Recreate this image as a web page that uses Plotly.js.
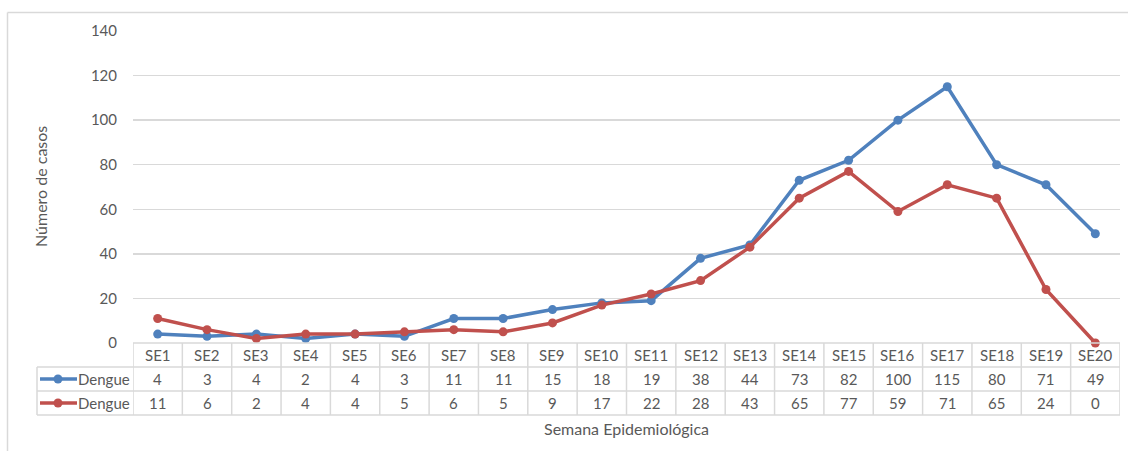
<!DOCTYPE html>
<html>
<head>
<meta charset="utf-8">
<script src="https://cdn.plot.ly/plotly-3.0.1.min.js"></script>
<style>
  html, body { margin: 0; padding: 0; background: #fff; }
  #chart { width: 1128px; height: 451px; }
</style>
</head>
<body>
<div id="chart"></div>
<script>
// ---- data ----
const weeks = ['SE1','SE2','SE3','SE4','SE5','SE6','SE7','SE8','SE9','SE10',
               'SE11','SE12','SE13','SE14','SE15','SE16','SE17','SE18','SE19','SE20'];
const dengueA = [4, 3, 4, 2, 4, 3, 11, 11, 15, 18, 19, 38, 44, 73, 82, 100, 115, 80, 71, 49];
const dengueB = [11, 6, 2, 4, 4, 5, 6, 5, 9, 17, 22, 28, 43, 65, 77, 59, 71, 65, 24, 0];
const seriesNames = ['Dengue', 'Dengue'];
const yTicks = [0, 20, 40, 60, 80, 100, 120, 140];

// ---- styling ----
const BLUE = '#4f81bd', RED = '#c0504d', GRID = '#d9d9d9', TXT = '#595959';
const FONT = 'Lato, "Open Sans", "Liberation Sans", sans-serif';

// geometry (pixels) -> paper conversions
const W = 1128, H = 451;
const L = 133, R = 8, T = 31, B = 108;
const pw = W - L - R, ph = H - T - B;
const px = x => (x - L) / pw;             // pixel x -> paper x
const py = y => (H - B - y) / ph;         // pixel y -> paper y

const rowTop = [343, 367, 391, 415];      // table row boundaries (pixels)
const legendLeft = 37;

const idx = weeks.map((_, i) => i);
const traces = [
  { x: idx, y: dengueA, name: seriesNames[0], type: 'scatter', mode: 'lines+markers',
    line: { color: BLUE, width: 3.5 }, marker: { color: BLUE, size: 9 }, cliponaxis: false },
  { x: idx, y: dengueB, name: seriesNames[1], type: 'scatter', mode: 'lines+markers',
    line: { color: RED, width: 3.5 }, marker: { color: RED, size: 9 }, cliponaxis: false }
];

const shapes = [];
const annotations = [];
const lineStyle = { color: GRID, width: 1.5 };

// outer chart border (left + top)
shapes.push({ type: 'line', xref: 'paper', yref: 'paper', x0: px(7.5), x1: px(1128), y0: py(12.5), y1: py(12.5), line: lineStyle });
shapes.push({ type: 'line', xref: 'paper', yref: 'paper', x0: px(7.5), x1: px(7.5), y0: py(12.5), y1: py(451), line: lineStyle });

// table horizontal lines
shapes.push({ type: 'line', xref: 'x', yref: 'paper', x0: -0.5, x1: weeks.length - 0.5, y0: py(rowTop[0]), y1: py(rowTop[0]), line: lineStyle });
for (let r = 1; r < rowTop.length; r++) {
  shapes.push({ type: 'line', xref: 'paper', yref: 'paper', x0: px(legendLeft), x1: 1, y0: py(rowTop[r]), y1: py(rowTop[r]), line: lineStyle });
}
// table vertical lines
for (let i = 0; i <= weeks.length; i++) {
  shapes.push({ type: 'line', xref: 'x', yref: 'paper', x0: i - 0.5, x1: i - 0.5, y0: py(rowTop[0]), y1: py(rowTop[3]), line: lineStyle });
}
shapes.push({ type: 'line', xref: 'paper', yref: 'paper', x0: px(legendLeft), x1: px(legendLeft), y0: py(rowTop[1]), y1: py(rowTop[3]), line: lineStyle });

// header + values
const rowMid = r => py((rowTop[r] + rowTop[r + 1]) / 2);
const cellFont = { family: FONT, size: 15, color: TXT };
const ann = (o) => Object.assign({ showarrow: false, xanchor: 'center', yanchor: 'middle' }, o);
weeks.forEach((w, i) => {
  annotations.push(ann({ x: i, y: rowMid(0), xref: 'x', yref: 'paper', text: w, font: cellFont }));
  annotations.push(ann({ x: i, y: rowMid(1), xref: 'x', yref: 'paper', text: String(dengueA[i]), font: cellFont }));
  annotations.push(ann({ x: i, y: rowMid(2), xref: 'x', yref: 'paper', text: String(dengueB[i]), font: cellFont }));
});

// legend keys inside table
[[BLUE, 1, seriesNames[0]], [RED, 2, seriesNames[1]]].forEach(([c, r, name]) => {
  const yc = rowMid(r);
  shapes.push({ type: 'line', xref: 'paper', yref: 'paper', x0: px(40), x1: px(77), y0: yc, y1: yc, line: { color: c, width: 3.5 } });
  shapes.push({ type: 'circle', xref: 'paper', yref: 'paper', x0: px(53.5), x1: px(62.5),
    y0: yc - 4.5 / ph, y1: yc + 4.5 / ph, fillcolor: c, line: { color: c, width: 0 } });
  annotations.push(ann({ x: px(104), y: yc, xref: 'paper', yref: 'paper', text: name, font: cellFont }));
});

// axis titles
annotations.push(ann({ x: px(40), y: 0.5, xref: 'paper', yref: 'paper', text: 'Número de casos', textangle: -90,
  font: { family: FONT, size: 16, color: TXT } }));
annotations.push(ann({ x: 0.5, y: py(428), xref: 'paper', yref: 'paper', text: 'Semana Epidemiológica',
  font: { family: FONT, size: 16, color: TXT } }));

const layout = {
  width: W, height: H,
  margin: { l: L, r: R, t: T, b: B },
  paper_bgcolor: '#fff', plot_bgcolor: '#fff',
  showlegend: false,
  font: { family: FONT, color: TXT, size: 14 },
  xaxis: { range: [-0.5, weeks.length - 0.5], showticklabels: false, showgrid: false, zeroline: false,
           showline: false, ticks: '', fixedrange: true },
  yaxis: { range: [0, 140], tickvals: yTicks, ticktext: yTicks.map(String), showgrid: true, gridcolor: GRID, gridwidth: 1.5,
           zeroline: false, showline: false, ticks: 'outside', ticklen: 12, tickcolor: 'rgba(0,0,0,0)',
           tickfont: { family: FONT, size: 15, color: TXT }, fixedrange: true },
  shapes, annotations
};

Plotly.newPlot('chart', traces, layout, { staticPlot: true, displayModeBar: false });
</script>
</body>
</html>
